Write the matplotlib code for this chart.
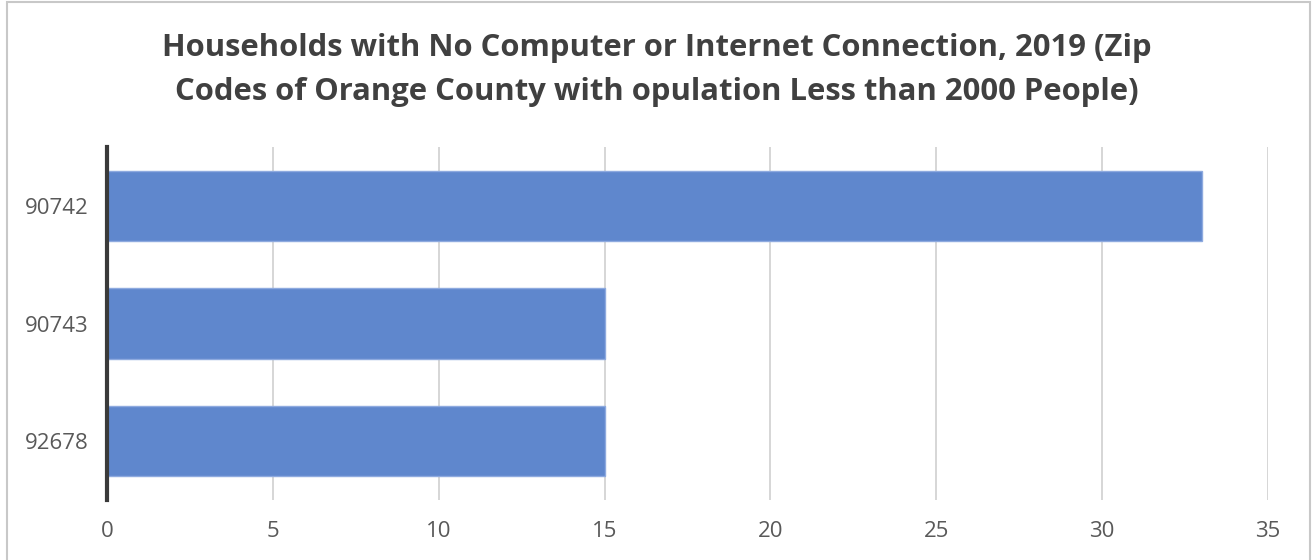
import matplotlib.pyplot as plt
from matplotlib.patches import Rectangle

# Data
zip_codes = ['90742', '90743', '92678']
households = [33, 15, 15]
x_ticks = [0, 5, 10, 15, 20, 25, 30, 35]

title = ('Households with No Computer or Internet Connection, 2019 (Zip\n'
         'Codes of Orange County with opulation Less than 2000 People)')

plt.rcParams['font.family'] = ['Open Sans', 'DejaVu Sans']

fig = plt.figure(figsize=(13.13, 5.6), dpi=100)
ax = fig.add_axes([107 / 1313, 1 - 500 / 560, (1268 - 107) / 1313, 353 / 560])

ax.barh(range(len(zip_codes)), households, height=0.6,
        color='#5f87cd', edgecolor='#8eaadf', linewidth=1, zorder=2)

ax.set_xlim(0, 35)
ax.set_ylim(len(zip_codes) - 0.5, -0.5)
ax.set_xticks(x_ticks)
ax.set_yticks(range(len(zip_codes)))
ax.set_yticklabels(zip_codes)
ax.xaxis.grid(True, color='#d0d0d0', linewidth=1.2, zorder=0)
ax.tick_params(axis='both', length=0, labelsize=16, colors='#595959')
ax.tick_params(axis='x', pad=15)
ax.tick_params(axis='y', pad=13)

for s in ['top', 'right', 'bottom']:
    ax.spines[s].set_visible(False)
ax.spines['left'].set_color('#3a3a3a')
ax.spines['left'].set_linewidth(3)
ax.spines['left'].set_zorder(3)

fig.text(0.5, 1 - 70 / 560, title, ha='center', va='center',
         fontsize=22.3, fontweight='bold', color='#404040', linespacing=1.65)

# chart border
fig.patches.append(Rectangle((7 / 1313, -0.01), 1303 / 1313, 1 - 2 / 560 + 0.01,
                             transform=fig.transFigure, fill=False,
                             edgecolor='#c8c8c8', linewidth=1.5))

fig.savefig('out.png', dpi=100)
